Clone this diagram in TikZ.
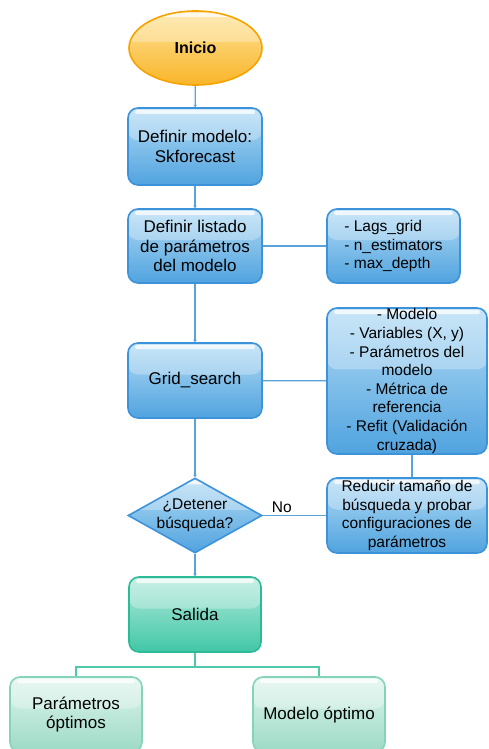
\documentclass[tikz,border=0pt]{standalone}
\usepackage{fontspec}
\setmainfont{Liberation Sans}
\usetikzlibrary{shapes.geometric,calc,arrows.meta}

\definecolor{blueline}{HTML}{3D93D9}
\definecolor{bluetop}{HTML}{B4DCF5}
\definecolor{bluebot}{HTML}{50A3DF}
\definecolor{wireblue}{HTML}{5AA3DA}
\definecolor{greenline}{HTML}{2DBB97}
\definecolor{greentop}{HTML}{B2EADC}
\definecolor{greenbot}{HTML}{42C7A6}
\definecolor{leafline}{HTML}{86D3BB}
\definecolor{leaftop}{HTML}{E0F5EE}
\definecolor{leafbot}{HTML}{9CDAC6}
\definecolor{wiregreen}{HTML}{4FC9A9}
\definecolor{orangeline}{HTML}{F5A300}
\definecolor{orangetop}{HTML}{FEE49A}
\definecolor{orangebot}{HTML}{F9B52A}

\newcommand{\mainfs}{\fontsize{17}{19.6}\selectfont}
\newcommand{\sidefs}{\fontsize{15.5}{18.6}\selectfont}

\tikzset{
  gloss/.style={path picture={
    \fill[white,opacity=.28] (path picture bounding box.north west) rectangle
      ($(path picture bounding box.north east)!0.42!(path picture bounding box.south east)$);
    \fill[white,opacity=.75,rounded corners=2pt]
      ([shift={(7pt,-2pt)}]path picture bounding box.north west) rectangle
      ([shift={(-7pt,-6pt)}]path picture bounding box.north east);
  }},
  bluebox/.style={rectangle, rounded corners=10pt, draw=blueline, line width=1.6pt,
    top color=bluetop, bottom color=bluebot, gloss, align=center, inner sep=2pt,
    font=\mainfs, text=black},
  sidebox/.style={bluebox, font=\sidefs},
  greenbox/.style={rectangle, rounded corners=10pt, draw=greenline, line width=1.6pt,
    top color=greentop, bottom color=greenbot, gloss, align=center, inner sep=2pt,
    font=\mainfs, text=black},
  leafbox/.style={rectangle, rounded corners=10pt, draw=leafline, line width=1.6pt,
    top color=leaftop, bottom color=leafbot, gloss, align=center, inner sep=2pt,
    font=\mainfs, text=black},
  wire/.style={draw=wireblue, line width=1.3pt},
  flow/.style={wire, -{Stealth[length=2.5pt,width=3.5pt]}},
  gwire/.style={draw=wiregreen, line width=1.3pt}
}

\begin{document}
\begin{tikzpicture}[x=1pt,y=-1pt]
  \useasboundingbox (0,0) rectangle (488,749);

  % start terminal
  \node[ellipse, draw=orangeline, line width=1.6pt, top color=orangetop,
        bottom color=orangebot, gloss, minimum width=133pt, minimum height=74pt,
        inner sep=0pt, font=\fontsize{16}{19}\selectfont\bfseries]
        (start) at (195.5,48) {Inicio};

  % main column
  \node[bluebox, minimum width=134pt, minimum height=77pt] (model) at (195,146.5)
        {Definir modelo:\\Skforecast};
  \node[bluebox, minimum width=134pt, minimum height=74pt] (params) at (195,246)
        {Definir listado\\de parámetros\\del modelo};
  \node[bluebox, minimum width=134pt, minimum height=75pt] (grid) at (195,380.5)
        {Grid\_search};
  \node[diamond, draw=blueline, line width=1.6pt, top color=bluetop,
        bottom color=bluebot, gloss, shape aspect=1.8, inner sep=-1pt,
        minimum width=134pt, minimum height=75pt, align=center, font=\sidefs]
        (stop) at (195,515.5) {¿Detener\\búsqueda?};

  % side notes
  \node[sidebox, minimum width=133pt, minimum height=74pt, align=left] (lags)
        at (393.5,246) {- Lags\_grid\\- n\_estimators\\- max\_depth};
  \node[sidebox, minimum width=160pt, minimum height=146pt] (gsopts) at (407,381) {};
  \node[font=\sidefs, align=center, inner sep=0pt] (gstext) at (407,381)
        {- Modelo\\- Variables (X, y)\\- Parámetros del\\modelo\\- Métrica de\\referencia\\- Refit (Validación\\cruzada)};
  \node[sidebox, minimum width=160pt, minimum height=75pt] (reduce) at (407,515.5)
        {Reducir tamaño de\\búsqueda y probar\\configuraciones de\\parámetros};

  % output
  \node[greenbox, minimum width=132pt, minimum height=75pt] (out) at (195,614.5) {Salida};
  \node[leafbox, minimum width=132pt, minimum height=75pt] (bestp) at (76,714.5)
        {Parámetros\\óptimos};
  \node[leafbox, minimum width=132pt, minimum height=75pt] (bestm) at (319,714.5)
        {Modelo óptimo};

  % connectors
  \draw[flow] (start) -- (model);
  \draw[flow] (model) -- (params);
  \draw[flow] (params) -- (grid);
  \draw[flow] (grid) -- (stop);
  \draw[flow] (stop) -- (out);
  \draw[wire] (params) -- (lags);
  \draw[wire] (grid) -- (gsopts);
  \draw[wire] ([xshift=5pt]gsopts.south) -- ([xshift=5pt]reduce.north);
  \draw[wire] (stop) -- node[above, font=\sidefs, text=black, pos=0.3, inner sep=2pt] (no) {No} (reduce);
  \coordinate (fork) at (195,667);
  \draw[gwire] (out.south) -- (fork);
  \draw[gwire] (fork) -| (bestp.north);
  \draw[gwire] (fork) -| (bestm.north);
\end{tikzpicture}
\end{document}
